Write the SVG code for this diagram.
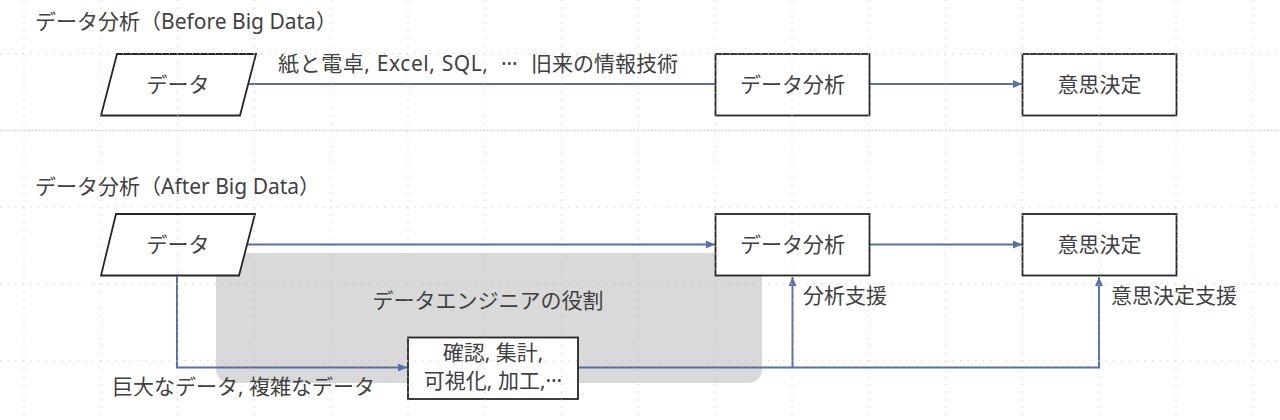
<svg xmlns="http://www.w3.org/2000/svg" width="1280" height="420" viewBox="0 0 1280 420">
<style>
text{font-family:"Noto Sans","Noto Sans CJK JP",sans-serif;font-size:21px;fill:#404040}
.box{fill:#fff;stroke:#262626;stroke-width:1.8}
.c{text-anchor:middle}
.ln{fill:none;stroke:#5570aa;stroke-width:2}
.g{stroke:#c4c4c4;stroke-width:1;stroke-dasharray:1 6.68;fill:none}
.gd{stroke:#c8c8c8;stroke-width:1;stroke-dasharray:2 1.5;fill:none}
</style>
<defs>
<marker id="ah" markerUnits="userSpaceOnUse" markerWidth="9" markerHeight="8" refX="9" refY="4" orient="auto">
<path d="M0,0 L9,4 L0,8 z" fill="#5570aa"/>
</marker>
</defs>
<rect width="1280" height="420" fill="#fff"/>
<g id="role-area">
<rect x="216" y="253" width="546" height="130" rx="14" fill="#d9d9d9"/>
<text x="488" y="308" class="c">データエンジニアの役割</text>
</g>
<g id="connectors">
<path class="ln" d="M242,84 H716"/>
<path class="ln" d="M870,84 H1022" marker-end="url(#ah)"/>
<path class="ln" d="M247,244.5 H715" marker-end="url(#ah)"/>
<path class="ln" d="M870,244.5 H1022" marker-end="url(#ah)"/>
<path class="ln" d="M177,275.5 V367.5 H407" marker-end="url(#ah)"/>
<path class="ln" d="M578,367.5 H1099 V277" marker-end="url(#ah)"/>
<path class="ln" d="M792.5,367.5 V277" marker-end="url(#ah)"/>
</g>
<g id="title-before"><text x="35" y="29">データ分析（Before Big Data）</text></g>
<g id="label-old-tech"><text x="278" y="71" textLength="210" lengthAdjust="spacing">紙と電卓, Excel, SQL,</text><text x="501" y="65">…</text><text x="531" y="71">旧来の情報技術</text></g>
<g id="data-before">
<polygon class="box" points="117,54 256,54 240,115.5 101,115.5"/>
<text x="178" y="92" class="c">データ</text>
</g>
<g id="analysis-before">
<rect class="box" x="715.5" y="54" width="154" height="61.5"/>
<text x="792.5" y="92" class="c">データ分析</text>
</g>
<g id="decision-before">
<rect class="box" x="1022.5" y="54" width="154" height="61.5"/>
<text x="1099.5" y="92" class="c">意思決定</text>
</g>
<g id="title-after"><text x="35" y="194">データ分析（After Big Data）</text></g>
<g id="data-after">
<polygon class="box" points="116,214 255,214 239,275.5 101,275.5"/>
<text x="178" y="252" class="c">データ</text>
</g>
<g id="analysis-after">
<rect class="box" x="715.5" y="214" width="154" height="61.5"/>
<text x="792.5" y="252" class="c">データ分析</text>
</g>
<g id="decision-after">
<rect class="box" x="1022.5" y="214" width="154" height="61.5"/>
<text x="1099.5" y="252" class="c">意思決定</text>
</g>
<g id="process">
<rect class="box" x="408" y="337.5" width="170" height="61.5"/>
<text x="493" y="360" class="c">確認, 集計,</text>
<text x="493" y="388" class="c">可視化, 加工,<tspan dy="-6">…</tspan></text>
</g>
<g id="label-big-data"><text x="112" y="394">巨大なデータ, 複雑なデータ</text></g>
<g id="label-analysis-support"><text x="803" y="303">分析支援</text></g>
<g id="label-decision-support"><text x="1111" y="303">意思決定支援</text></g>
<g id="grid">
<path class="g" d="M24,0V420 M100.8,0V420 M177.6,0V420 M254.4,0V420 M331.2,0V420 M408,0V420 M484.8,0V420 M561.6,0V420 M638.4,0V420 M715.2,0V420 M792,0V420 M868.8,0V420 M945.6,0V420 M1022.4,0V420 M1099.2,0V420 M1176,0V420 M1252.8,0V420"/>
<path class="g" d="M0,53.5H1280 M0,207.1H1280 M0,283.9H1280 M0,360.7H1280"/>
<path class="gd" d="M0,130.3H1280"/>
</g>
</svg>
